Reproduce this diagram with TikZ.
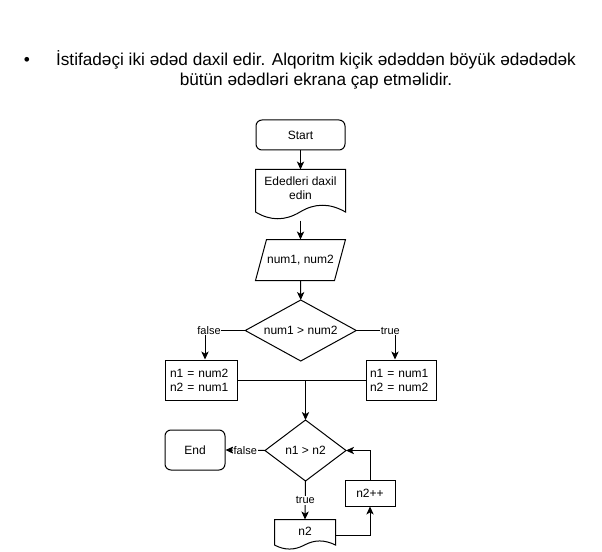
\documentclass[tikz,border=0pt]{standalone}
\usepackage{fontspec}
\setmainfont{Liberation Sans}
\usetikzlibrary{arrows.meta,calc}
\tikzset{
  base/.style={font=\fontsize{9}{10.5}\selectfont, inner sep=0pt},
  termbox/.style={base, draw, rounded corners=4.5pt, minimum width=#1, minimum height=22.5pt},
  hidden/.style={base, draw=none, minimum width=#1},
  procbox/.style={base, draw, align=left, inner ysep=0pt, minimum height=30pt},
  elabel/.style={font=\fontsize{8.25}{9}\selectfont, fill=white, inner sep=0.5pt},
  conn/.style={line width=0.75pt, -{Stealth[length=6pt,width=5.5pt,inset=1.6pt]}},
  plain/.style={line width=0.75pt}
}
\begin{document}
\begin{tikzpicture}[x=0.75pt,y=-0.75pt, line width=0.75pt]
\useasboundingbox (0,0) rectangle (602,552);
% title
\node[font=\fontsize{13}{15}\selectfont] (bul) at (27,61) {•};
\node[font=\fontsize{12.9}{15}\selectfont, align=center, inner sep=0pt] (title) at (316,70)
  {İstifadəçi iki ədəd daxil edir. Alqoritm kiçik ədəddən böyük ədədədək\\bütün ədədləri ekrana çap etməlidir.};
% Start
\node[termbox=66.75pt] (start) at (300.5,135) {Start};
% document 1
\node[hidden=66.75pt, minimum height=37.5pt] (doc1) at (300.5,195) {};
\node[base, align=center] (doc1t) at (300.5,188.5) {Ededleri daxil\\edin};
\draw[plain] (doc1.north west) -- (doc1.north east)
  -- ($(doc1.north east)+(0,42.5)$)
  .. controls ($(doc1.north west)+({89*5/6},33.5)$) and ($(doc1.north west)+({89*2/3},33.5)$) .. ($(doc1.north west)+(44.5,42.5)$)
  .. controls ($(doc1.north west)+({89/3},51.5)$) and ($(doc1.north west)+({89/6},51.5)$) .. ($(doc1.north west)+(0,42.5)$)
  -- cycle;
% parallelogram
\node[hidden=66.75pt, minimum height=30pt] (para) at (300.5,260) {num1, num2};
\draw[plain] ($(para.north west)+(11,0)$) -- (para.north east) -- ($(para.south east)+(-11,0)$) -- (para.south west) -- cycle;
% diamond 1
\node[hidden=82.5pt, minimum height=45pt] (d1) at (300.75,330.5) {num1 > num2};
\draw[plain] (d1.north) -- (d1.east) -- (d1.south) -- (d1.west) -- cycle;
% boxes
\node[procbox, text width=46.5pt, inner xsep=3.75pt] (lbox) at (201,380) {n1 = num2\\n2 = num1};
\node[procbox, text width=46.5pt, inner xsep=3pt] (rbox) at (401,380) {n1 = num1\\n2 = num2};
% diamond 2
\node[hidden=60pt, minimum height=45pt] (d2) at (305.5,450.5) {n1 > n2};
\draw[plain] (d2.north) -- (d2.east) -- (d2.south) -- (d2.west) -- cycle;
% End
\node[termbox=45pt, minimum height=30pt] (endn) at (195,450) {End};
% document n2
\node[hidden=45pt, minimum height=22.5pt] (n2doc) at (305,535) {};
\node[base] (n2t) at (305,531) {n2};
\draw[plain] (n2doc.north west) -- (n2doc.north east)
  -- ($(n2doc.north east)+(0,25.5)$)
  .. controls ($(n2doc.north west)+(50,20.1)$) and ($(n2doc.north west)+(40,20.1)$) .. ($(n2doc.north west)+(30,25.5)$)
  .. controls ($(n2doc.north west)+(20,30.9)$) and ($(n2doc.north west)+(10,30.9)$) .. ($(n2doc.north west)+(0,25.5)$)
  -- cycle;
% n2++
\node[base, draw, minimum width=37.5pt, minimum height=19.5pt] (n2pp) at (370,493) {n2++};
% connectors
\draw[conn] (start.south) -- (doc1.north);
\draw[conn] (doc1.south) -- (para.north);
\draw[conn] (para.south) -- (d1.north);
\draw[conn] (d1.west) -| node[elabel, pos=0.45] {false} ([xshift=3pt]lbox.north);
\draw[conn] (d1.east) -| node[elabel, pos=0.44] {true} ([xshift=-4.5pt]rbox.north);
\draw[plain] (lbox.east) -- (rbox.west);
\draw[conn] (lbox.east -| d2.north) -- (d2.north);
\draw[conn] (d2.west) -- node[elabel] {false} (endn.east);
\draw[conn] (d2.south) -- node[elabel] {true} (n2doc.north);
\draw[conn] (n2doc.east) -| (n2pp.south);
\draw[conn] (n2pp.north) |- (d2.east);
\end{tikzpicture}
\end{document}
